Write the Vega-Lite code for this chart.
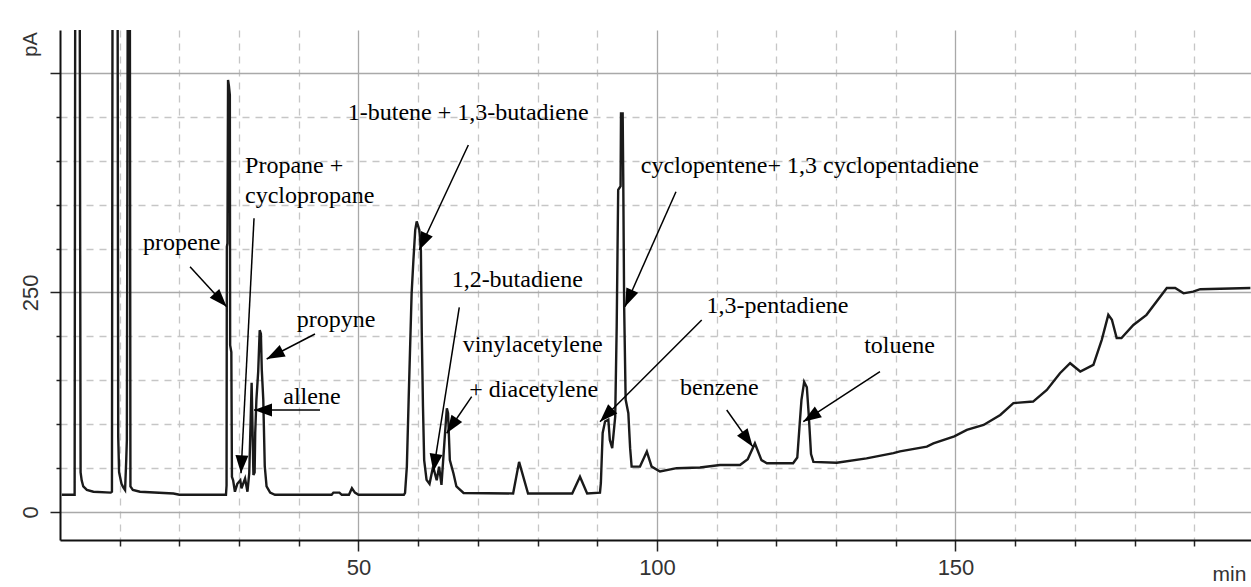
{
  "$schema": "https://vega.github.io/schema/vega-lite/v6.json",
  "width": 1191,
  "height": 510,
  "autosize": {"type": "none"},
  "padding": {"left": 60, "top": 30, "right": 0, "bottom": 47},
  "background": "white",
  "config": {"view": {"stroke": null}},
  "datasets": {
    "trace": [
      {"x":0.3,"y":19.5},{"x":2.45,"y":19.5},{"x":2.55,"y":600},{"x":3.3,"y":600},{"x":3.45,"y":45},{"x":3.63,"y":36},{"x":3.9,"y":29},{"x":4.5,"y":25},{"x":5.6,"y":23},{"x":8.5,"y":22},{"x":8.7,"y":23},{"x":8.8,"y":600},{"x":9.65,"y":600},{"x":9.75,"y":86},{"x":9.9,"y":45},{"x":10.3,"y":32},{"x":10.6,"y":28},{"x":10.9,"y":25},{"x":11.1,"y":60},{"x":11.2,"y":82},{"x":11.35,"y":600},{"x":11.7,"y":600},{"x":11.8,"y":29},{"x":12.2,"y":25},{"x":13.4,"y":23},{"x":19,"y":21},{"x":20,"y":19.5},{"x":27.8,"y":19.5},{"x":27.9,"y":30},{"x":27.95,"y":302},{"x":28.05,"y":306},{"x":28.15,"y":492},{"x":28.3,"y":485},{"x":28.45,"y":475},{"x":28.5,"y":190},{"x":28.7,"y":182},{"x":28.8,"y":40},{"x":29.0,"y":36},{"x":29.3,"y":23},{"x":29.7,"y":32},{"x":30.2,"y":36},{"x":30.4,"y":27},{"x":31.0,"y":38},{"x":31.4,"y":23},{"x":31.7,"y":44},{"x":32.1,"y":147},{"x":32.4,"y":42},{"x":32.6,"y":45},{"x":32.7,"y":90},{"x":32.9,"y":128},{"x":33.2,"y":160},{"x":33.45,"y":207},{"x":33.65,"y":203},{"x":33.8,"y":162},{"x":34.05,"y":128},{"x":34.3,"y":52},{"x":34.6,"y":29},{"x":35.2,"y":22},{"x":36,"y":19.5},{"x":45.5,"y":19.5},{"x":45.8,"y":22},{"x":46.8,"y":22},{"x":47.2,"y":19.5},{"x":48.4,"y":19.5},{"x":48.9,"y":27},{"x":49.4,"y":22},{"x":50,"y":19.5},{"x":57.6,"y":19.5},{"x":57.8,"y":21.6},{"x":58.1,"y":51.6},{"x":58.4,"y":127.6},{"x":58.9,"y":249},{"x":59.2,"y":287},{"x":59.5,"y":321},{"x":59.75,"y":331},{"x":60.2,"y":321},{"x":60.45,"y":298},{"x":60.6,"y":204},{"x":60.8,"y":120},{"x":61.0,"y":59},{"x":61.4,"y":36.5},{"x":61.9,"y":32},{"x":62.5,"y":51.6},{"x":63.1,"y":36},{"x":63.5,"y":51.6},{"x":63.9,"y":30.8},{"x":64.5,"y":90},{"x":64.8,"y":118},{"x":65.0,"y":112.6},{"x":65.3,"y":59},{"x":65.9,"y":44},{"x":66.4,"y":29},{"x":67.6,"y":21.6},{"x":75.9,"y":21},{"x":76.9,"y":57},{"x":78.4,"y":21},{"x":85.8,"y":21},{"x":87.1,"y":40},{"x":88.3,"y":21},{"x":90.45,"y":22},{"x":90.6,"y":33},{"x":90.9,"y":90},{"x":91.3,"y":103},{"x":91.85,"y":105},{"x":92.1,"y":82},{"x":92.5,"y":72.6},{"x":93.0,"y":108.6},{"x":93.25,"y":211},{"x":93.5,"y":367},{"x":93.9,"y":371},{"x":93.97,"y":454},{"x":94.25,"y":454},{"x":94.35,"y":378},{"x":94.5,"y":234},{"x":94.75,"y":128},{"x":95.2,"y":112.5},{"x":95.5,"y":72.6},{"x":95.75,"y":51.6},{"x":97.15,"y":51.6},{"x":98.3,"y":68.7},{"x":99.1,"y":51.6},{"x":100.5,"y":46},{"x":103.3,"y":49.8},{"x":107.2,"y":50.6},{"x":110.55,"y":53.5},{"x":113.9,"y":53.5},{"x":115.2,"y":60},{"x":116.4,"y":78},{"x":117.5,"y":59},{"x":118.4,"y":55.5},{"x":122.8,"y":55.5},{"x":123.5,"y":62},{"x":123.9,"y":100},{"x":124.2,"y":127.6},{"x":124.65,"y":148},{"x":125.1,"y":142},{"x":125.4,"y":112.5},{"x":125.8,"y":66},{"x":126.2,"y":57},{"x":130.1,"y":56},{"x":135.1,"y":61},{"x":139.6,"y":67},{"x":140.7,"y":69},{"x":145.2,"y":74.4},{"x":146.3,"y":78},{"x":149.8,"y":86},{"x":151.9,"y":93.4},{"x":154.7,"y":99},{"x":157.5,"y":110.5},{"x":159.7,"y":124},{"x":163.0,"y":125.7},{"x":165.3,"y":139},{"x":167.5,"y":158},{"x":169.2,"y":169.4},{"x":170.9,"y":160},{"x":173.1,"y":167.5},{"x":174.5,"y":196},{"x":175.6,"y":224.5},{"x":176.2,"y":219},{"x":177.0,"y":198},{"x":177.8,"y":198},{"x":179.8,"y":213},{"x":182.0,"y":224.5},{"x":185.4,"y":255},{"x":186.8,"y":255},{"x":188.2,"y":249},{"x":189.8,"y":251},{"x":191.0,"y":253.7},{"x":199.4,"y":255}
    ],
    "labels": [
      {"x":13.9,"y":298.4,"text":"propene"},
      {"x":31.0,"y":385.7,"text":"Propane +"},
      {"x":31.0,"y":351.6,"text":"cyclopropane"},
      {"x":39.65,"y":211,"text":"propyne"},
      {"x":37.4,"y":122.9,"text":"allene"},
      {"x":48.2,"y":446.5,"text":"1-butene + 1,3-butadiene"},
      {"x":65.6,"y":255.9,"text":"1,2-butadiene"},
      {"x":67.45,"y":182.5,"text":"vinylacetylene"},
      {"x":68.56,"y":130.6,"text":"+ diacetylene"},
      {"x":97.3,"y":385.7,"text":"cyclopentene+ 1,3 cyclopentadiene"},
      {"x":108.3,"y":226.3,"text":"1,3-pentadiene"},
      {"x":103.85,"y":133.2,"text":"benzene"},
      {"x":134.7,"y":181.4,"text":"toluene"}
    ],
    "arrows": [
      {"x2":21.78,"y2":279.3,"x":27.92,"y":233.8},
      {"x2":32.5,"y2":334.5,"x":30.32,"y":44},
      {"x2":42.71,"y2":202.7,"x":34.62,"y":174.2},
      {"x2":43.55,"y2":116.1,"x":32.5,"y":116.1},
      {"x2":68.4,"y2":418,"x":60.18,"y":298.4},
      {"x2":66.88,"y2":233.1,"x":62.53,"y":45.8},
      {"x2":68.96,"y2":131.3,"x":64.77,"y":89.6},
      {"x2":103.18,"y2":364.8,"x":94.64,"y":233.8},
      {"x2":107.49,"y2":218.6,"x":90.45,"y":102.8},
      {"x2":111.68,"y2":116.1,"x":116.03,"y":74.3},
      {"x2":137.35,"y2":159.7,"x":124.5,"y":102.8}
    ]
  },
  "layer": [
    {
      "data": {"name": "trace"},
      "mark": {"type": "line", "color": "#1a1a1a", "strokeWidth": 2.4, "clip": true, "interpolate": "linear"},
      "encoding": {
        "x": {
          "field": "x", "type": "quantitative",
          "scale": {"domain": [0, 199.5], "nice": false, "zero": false},
          "axis": {
            "title": "min", "titleFont": "Liberation Sans", "titleFontSize": 21, "titleFontWeight": "normal", "titleColor": "#333",
            "titleX": 1152, "titleY": 40, "titleAlign": "left", "titleBaseline": "alphabetic", "titleAngle": 0,
            "values": [10,20,30,40,50,60,70,80,90,100,110,120,130,140,150,160,170,180,190],
            "labelExpr": "datum.value % 50 === 0 ? datum.label : ''",
            "labelFont": "Liberation Sans", "labelFontSize": 22, "labelColor": "#333", "labelBaseline": "top", "labelPadding": 6, "labelOverlap": false, "labelFlush": false,
            "grid": true,
            "gridColor": {"condition": {"test": "datum.value % 50 === 0", "value": "#a9a9a9"}, "value": "#c6c6c6"},
            "gridDash": {"condition": {"test": "datum.value % 50 === 0", "value": []}, "value": [7, 6]},
            "gridWidth": 1.3,
            "tickSize": {"condition": {"test": "datum.value % 50 === 0", "value": 11}, "value": 6},
            "tickColor": "#222", "tickWidth": 1.5,
            "domainColor": "#111", "domainWidth": 2
          }
        },
        "y": {
          "field": "y", "type": "quantitative",
          "scale": {"domain": [-32, 549], "nice": false, "zero": false},
          "axis": {
            "title": "pA", "titleFont": "Liberation Sans", "titleFontSize": 20, "titleFontWeight": "normal", "titleColor": "#333",
            "titleAngle": -90, "titleX": -30, "titleY": 14, "titleAlign": "center", "titleBaseline": "middle",
            "values": [0,50,100,150,200,250,300,350,400,450,500],
            "labelExpr": "datum.value === 0 || datum.value === 250 ? datum.label : ''",
            "labelAngle": -90, "labelAlign": "center", "labelBaseline": "bottom",
            "labelFont": "Liberation Sans", "labelFontSize": 22, "labelColor": "#333", "labelPadding": 8, "labelOverlap": false, "labelFlush": false,
            "grid": true,
            "gridColor": {"condition": {"test": "datum.value % 250 === 0", "value": "#a9a9a9"}, "value": "#c6c6c6"},
            "gridDash": {"condition": {"test": "datum.value % 250 === 0", "value": []}, "value": [7, 6]},
            "gridWidth": 1.3,
            "tickSize": {"condition": {"test": "datum.value % 250 === 0", "value": 10}, "value": 4},
            "tickColor": "#222", "tickWidth": 1.5,
            "domainColor": "#111", "domainWidth": 2
          }
        }
      }
    },
    {
      "data": {"name": "arrows"},
      "mark": {"type": "rule", "color": "black", "strokeWidth": 1.5},
      "encoding": {
        "x": {"field": "x", "type": "quantitative"},
        "y": {"field": "y", "type": "quantitative"},
        "x2": {"field": "x2"},
        "y2": {"field": "y2"}
      }
    },
    {
      "data": {"name": "arrows"},
      "transform": [
        {"calculate": "atan2((datum.x - datum.x2) * 5.970, (datum.y - datum.y2) * 0.8778) * 180 / PI", "as": "ang"}
      ],
      "mark": {"type": "point", "shape": "M0,0L-0.36,1L0.36,1Z", "filled": true, "color": "black", "opacity": 1, "size": 1296, "strokeWidth": 0},
      "encoding": {
        "x": {"field": "x", "type": "quantitative"},
        "y": {"field": "y", "type": "quantitative"},
        "angle": {"field": "ang", "type": "quantitative", "scale": null}
      }
    },
    {
      "data": {"name": "labels"},
      "mark": {"type": "text", "font": "Liberation Serif", "fontSize": 24, "color": "black", "align": "left", "baseline": "alphabetic"},
      "encoding": {
        "x": {"field": "x", "type": "quantitative"},
        "y": {"field": "y", "type": "quantitative"},
        "text": {"field": "text"}
      }
    }
  ]
}
